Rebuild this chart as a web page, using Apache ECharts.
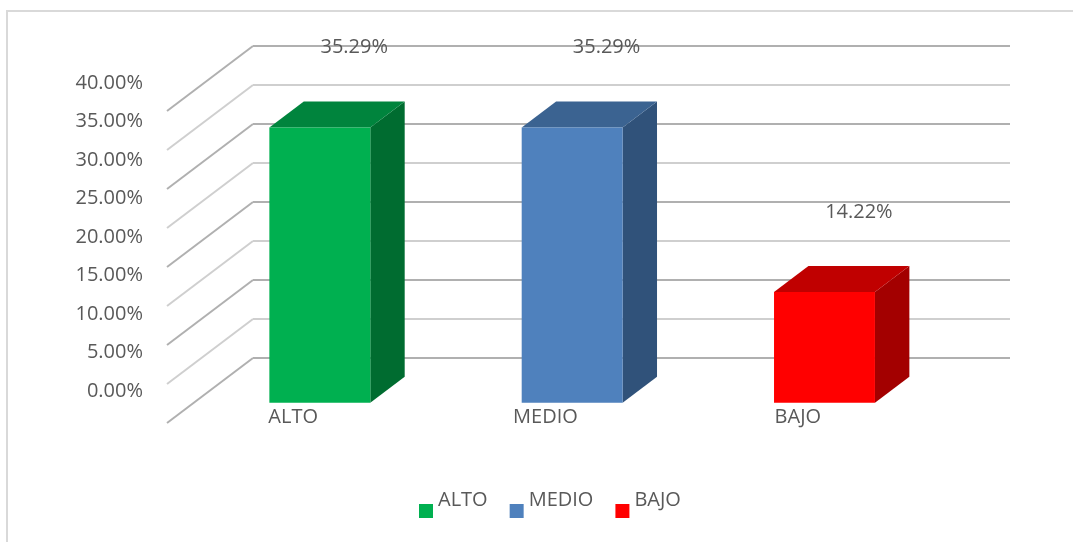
<!DOCTYPE html>
<html>
<head>
<meta charset="utf-8">
<script src="https://cdn.jsdelivr.net/npm/echarts@6/dist/echarts.min.js"></script>
<style>
    html, body {margin: 0; padding: 0; background: #fff;}
    #chart {width: 1073px; height: 542px;}
</style>
</head>
<body>
<div id="chart"></div>
<script>
// datos del grafico
var categorias = ['ALTO', 'MEDIO', 'BAJO'];
var valores = [0.3529, 0.3529, 0.1422];
var etiquetas = ['35.29%', '35.29%', '14.22%'];
var ticks = [0, 0.05, 0.1, 0.15, 0.2, 0.25, 0.3, 0.35, 0.4];

// colores: frente, tapa, lateral
var colFrente = ['#00B050', '#4F81BD', '#FF0000'];
var colTapa = ['#00843D', '#3B6391', '#C00000'];
var colLado = ['#006C30', '#30527A', '#A30000'];

var fuente = '"Open Sans", "Liberation Sans", sans-serif';
var gris = '#595959';
// profundidad (de la pared del fondo hacia el frente)
var prof = [-86, 65];

var myChart = echarts.init(document.getElementById('chart'));

function barra3d(idx) {
    return function (params, api) {
        var top = api.coord([api.value(0), api.value(1)]);
        var base = api.coord([api.value(0), 0]);
        var w = api.size([1, 0])[0] * 0.4;
        // cara frontal a 0.69 de profundidad, trasera a 0.29
        var fx = top[0] + prof[0] * 0.69 - w / 2;
        var fy = top[1] + prof[1] * 0.69;
        var fb = base[1] + prof[1] * 0.69;
        var dx = -prof[0] * 0.4;
        var dy = -prof[1] * 0.4;
        var bx = top[0] + prof[0] * 0.29;
        var by = top[1] + prof[1] * 0.29;
        return {
            type: 'group',
            children: [
                {
                    type: 'polygon',
                    shape: {points: [[fx + w, fy], [fx + w + dx, fy + dy], [fx + w + dx, fb + dy], [fx + w, fb]]},
                    style: {fill: colLado[idx]}
                },
                {
                    type: 'polygon',
                    shape: {points: [[fx, fy], [fx + w, fy], [fx + w + dx, fy + dy], [fx + dx, fy + dy]]},
                    style: {fill: colTapa[idx]}
                },
                {
                    type: 'rect',
                    shape: {x: fx, y: fy, width: w, height: fb - fy},
                    style: {fill: colFrente[idx]}
                },
                {
                    type: 'text',
                    x: bx,
                    y: by - 54,
                    style: {
                        text: etiquetas[idx],
                        fill: gris,
                        font: '20px ' + fuente,
                        align: 'center',
                        verticalAlign: 'middle'
                    }
                }
            ]
        };
    };
}

var series = [
    {
        // lineas diagonales de la pared lateral
        type: 'custom',
        xAxisIndex: 0,
        yAxisIndex: 0,
        silent: true,
        z: 1,
        data: ticks.map(function (t) { return [0, t]; }),
        renderItem: function (params, api) {
            var p = api.coord([0, api.value(1)]);
            var x0 = params.coordSys.x;
            var oscuro = (params.dataIndex % 2 === 0);
            return {
                type: 'line',
                shape: {x1: x0, y1: p[1], x2: x0 + prof[0], y2: p[1] + prof[1]},
                style: {stroke: oscuro ? '#b0b0b0' : '#cfcfcf', lineWidth: 2}
            };
        }
    }
];

for (var i = 0; i < categorias.length; i++) {
    series.push({
        type: 'custom',
        name: categorias[i],
        xAxisIndex: 0,
        yAxisIndex: 0,
        z: 3,
        itemStyle: {color: colFrente[i]},
        data: [[i, valores[i]]],
        renderItem: barra3d(i)
    });
}

option = {
    animation: false,
    graphic: [
        {
            type: 'rect',
            shape: {x: 7, y: 11, width: 1200, height: 800},
            style: {fill: 'none', stroke: '#d9d9d9', lineWidth: 2},
            silent: true
        }
    ],
    legend: {
        data: categorias,
        left: 419,
        top: 490,
        padding: 0,
        itemWidth: 14,
        itemHeight: 14,
        itemGap: 22,
        icon: 'rect',
        formatter: '{t|{name}}',
        textStyle: {
            rich: {
                t: {
                    fontFamily: fuente,
                    fontSize: 20,
                    color: gris,
                    padding: [0, 0, 22, 0]
                }
            }
        }
    },
    grid: [
        // pared del fondo
        {left: 253, right: 63, top: 46, bottom: 184},
        // plano frontal (etiquetas)
        {left: 167, right: 149, top: 83, bottom: 151}
    ],
    xAxis: [
        {
            type: 'category',
            gridIndex: 0,
            data: categorias,
            axisLine: {show: false},
            axisTick: {show: false},
            axisLabel: {show: false}
        },
        {
            type: 'category',
            gridIndex: 1,
            data: categorias,
            axisLine: {show: false},
            axisTick: {show: false},
            axisLabel: {
                margin: 16,
                fontFamily: fuente,
                fontSize: 20,
                color: gris
            }
        }
    ],
    yAxis: [
        {
            type: 'value',
            gridIndex: 0,
            min: 0,
            max: 0.4,
            interval: 0.05,
            axisLine: {show: false},
            axisTick: {show: false},
            axisLabel: {show: false},
            splitLine: {
                show: true,
                lineStyle: {color: ['#b0b0b0', '#cfcfcf'], width: 2}
            }
        },
        {
            type: 'value',
            gridIndex: 1,
            min: 0,
            max: 0.4,
            interval: 0.05,
            axisLine: {show: false},
            axisTick: {show: false},
            splitLine: {show: false},
            axisLabel: {
                margin: 24,
                fontFamily: fuente,
                fontSize: 20,
                color: gris,
                formatter: function (v) {
                    return (v * 100).toFixed(2) + '%';
                }
            }
        }
    ],
    series: series
};
myChart.setOption(option);
</script>
</body>
</html>
